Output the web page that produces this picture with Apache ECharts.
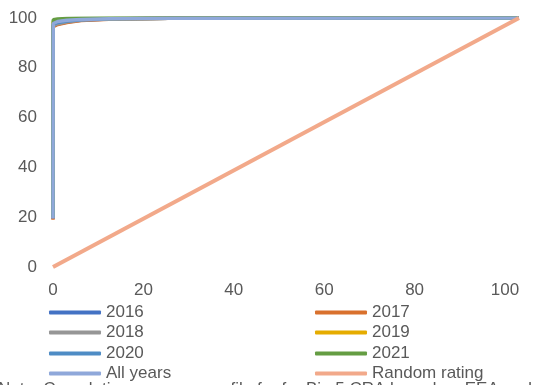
<!DOCTYPE html>
<html><head><meta charset="utf-8">
<script src="https://cdn.jsdelivr.net/npm/echarts@6/dist/echarts.min.js"></script>
<style>html,body{margin:0;padding:0;background:#fff}#c{width:539px;height:385px}</style>
</head><body><div id="c"></div>
<script>
const seriesNames = ['2016','2017','2018','2019','2020','2021','All years','Random rating'];
const colors = ['#4472C4','#D9712D','#969696','#E5AC00','#4E8CC5','#659D43','#8FA8DA','#F2A98A'];
const xTicks = [0,20,40,60,80,100];
const yTicks = [0,20,40,60,80,100];
// cumulative accuracy profile points [share of population %, share of defaults %]
const cap2016 = [[0,19.3],[0.05,96.8],[1,97.6],[3,98.4],[6,99.1],[12,99.6],[25,99.9],[100,100]];
const cap2017 = [[0,19.0],[0.05,96.5],[1,97.4],[3,98.2],[6,99.0],[12,99.5],[25,99.9],[100,100]];
const cap2018 = [[0,19.8],[0.05,96.9],[1,97.7],[3,98.5],[6,99.2],[12,99.6],[25,99.9],[100,100]];
const cap2019 = [[0,20.0],[0.05,98.5],[1,99.0],[3,99.3],[6,99.5],[12,99.7],[25,99.9],[100,100]];
const cap2020 = [[0,19.6],[0.05,97.5],[1,98.2],[3,98.8],[6,99.3],[12,99.7],[25,99.9],[100,100]];
const cap2021 = [[0,20.2],[0.05,99.3],[1,99.6],[3,99.8],[6,99.9],[12,100],[25,100],[100,100]];
const capAll  = [[0,19.5],[0.05,97.8],[1,98.6],[3,99.1],[6,99.4],[12,99.7],[25,99.9],[100,100]];
const capRandom = [[0,0],[100,100]];
const allData = [cap2016,cap2017,cap2018,cap2019,cap2020,cap2021,capAll,capRandom];
const noteText = 'Note: Cumulative accuracy profile for for Big 5 CRA based on EEA and';

const chart = echarts.init(document.getElementById('c'));
const txt = '#595959';
const font = 'Liberation Sans, Arial, sans-serif';
const rowTops = [304,324,345,365];
const legends = seriesNames.map((n,i)=>({
  left: i%2===0 ? 49 : 315, top: rowTops[Math.floor(i/2)], padding:0,
  itemWidth:52,itemHeight:4,icon:'roundRect',itemGap:0,
  textStyle:{color:txt,fontSize:17,fontFamily:font,padding:[0,0,0,0]},
  data:[n]
}));
chart.setOption({
  animation:false,
  grid:{left:53,right:20,top:18,bottom:118,containLabel:false},
  xAxis:[
    {type:'value',min:0,max:100,interval:20,axisLine:{show:false},axisTick:{show:false},splitLine:{show:false},axisLabel:{show:false}},
    {type:'value',min:0,max:103.1,interval:20,position:'bottom',axisLine:{show:false},axisTick:{show:false},splitLine:{show:false},
     axisLabel:{color:txt,fontSize:17,fontFamily:font,margin:15,showMaxLabel:true,customValues:xTicks}}
  ],
  yAxis:{type:'value',min:0,max:100,interval:20,axisLine:{show:false},axisTick:{show:false},splitLine:{show:false},
    axisLabel:{color:txt,fontSize:17,fontFamily:font,margin:16,customValues:yTicks}},
  legend:legends,
  graphic:[{type:'text',left:-2,top:381,style:{text:noteText,fill:txt,fontSize:17,fontFamily:font}}],
  series: seriesNames.map((n,i)=>({
    name:n,type:'line',xAxisIndex:0,data:allData[i],showSymbol:false,symbol:'none',smooth:false,
    lineStyle:{color:colors[i],width:i===7?4:3.5},itemStyle:{color:colors[i]},z:2+i
  }))
});
</script></body></html>
